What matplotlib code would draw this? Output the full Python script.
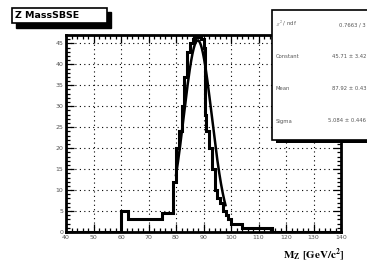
import numpy as np
import matplotlib

matplotlib.use("Agg")
import matplotlib.pyplot as plt
from matplotlib.patches import Rectangle

# histogram (bin edges in GeV, counts per bin)
edges = [40, 60, 62.5, 75, 79, 80, 81, 82, 83, 84, 85, 86, 87, 88, 89, 90,
         90.5, 91, 92, 93, 94, 95, 96, 97, 98, 99, 100, 104, 115, 140]
counts = [0, 5, 3, 4.5, 12, 20, 24, 30, 37, 43, 45, 46, 47, 46.5, 46, 44,
          28, 24, 20, 15, 10, 8, 7, 5, 4, 3, 2, 1, 0]

# gaussian fit parameters shown in the stats box
fit_const = 45.71
fit_mean = 87.92
fit_sigma = 5.084
fit_range = (80.0, 98.0)

stats_names = [r"$\chi^2$ / ndf", "Constant", "Mean", "Sigma"]
stats_values = ["0.7663 / 3", "45.71 ± 3.42", "87.92 ± 0.43",
                "5.084 ± 0.446"]

plt.rcParams["mathtext.fontset"] = "stix"

W, H = 367, 267
fig = plt.figure(figsize=(W / 100, H / 100), dpi=100)
fig.patch.set_facecolor("white")

L, R, B, T = 66, 341, 232, 35
ax = fig.add_axes([L / W, 1 - B / H, (R - L) / W, (B - T) / H])

ax.stairs(counts, edges, color="black", linewidth=2.2, baseline=None)
xf = np.linspace(fit_range[0], fit_range[1], 200)
yf = fit_const * np.exp(-0.5 * ((xf - fit_mean) / fit_sigma) ** 2)
ax.plot(xf, yf, color="black", linewidth=1.8)

ax.set_xlim(40, 140)
ax.set_ylim(0, 47)
ax.set_xticks(np.arange(40, 141, 10))
ax.set_yticks(np.arange(0, 46, 5))
ax.set_xticks(np.arange(40, 141, 2), minor=True)
ax.set_yticks(np.arange(0, 47, 1), minor=True)
ax.grid(True, which="major", color="black", linestyle=(0, (1, 3)), linewidth=0.8)
ax.tick_params(which="both", direction="in", top=True, right=True,
               color="black", width=0.9)
ax.tick_params(which="major", length=6, labelsize=4.5, labelcolor="#555555",
               pad=2)
ax.tick_params(which="minor", length=3)
for s in ax.spines.values():
    s.set_linewidth(2.0)

fig.text(345 / W, 1 - 255 / H, r"$\mathbf{M_{Z}\ [GeV/c^{2}]}$",
         ha="right", va="center", fontsize=8)

# title box with shadow
fig.patches.append(Rectangle((16 / W, 1 - 28 / H), 95 / W, 16 / H,
                             transform=fig.transFigure, facecolor="black",
                             edgecolor="black", zorder=2))
fig.patches.append(Rectangle((12 / W, 1 - 23 / H), 95 / W, 15 / H,
                             transform=fig.transFigure, facecolor="white",
                             edgecolor="black", linewidth=1.2, zorder=3))
fig.text(15 / W, 1 - 15.5 / H, "Z MassSBSE", ha="left", va="center",
         fontsize=6.8, fontweight="bold", zorder=4)

# stats box
fig.patches.append(Rectangle((276 / W, 1 - 143 / H), 100 / W, 130 / H,
                             transform=fig.transFigure, facecolor="black",
                             zorder=2))
fig.patches.append(Rectangle((272 / W, 1 - 140 / H), 100 / W, 130 / H,
                             transform=fig.transFigure, facecolor="white",
                             edgecolor="black", linewidth=1.2, zorder=3))
for i, (name, val) in enumerate(zip(stats_names, stats_values)):
    yy = 1 - (25 + 32 * i) / H
    fig.text(276 / W, yy, name, ha="left", va="center", fontsize=3.8,
             color="#555555", zorder=4)
    fig.text(366 / W, yy, val, ha="right", va="center", fontsize=3.8,
             color="#555555", zorder=4)

fig.savefig("out.png", dpi=100)
